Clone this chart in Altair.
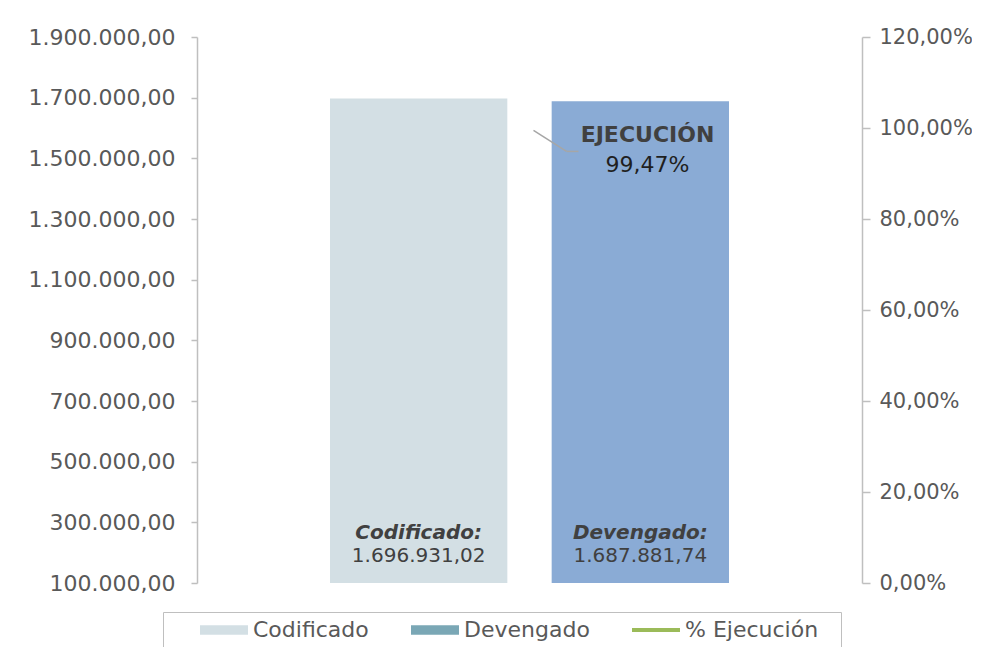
import altair as alt
import pandas as pd

# ---- data ----
categorias = ["Codificado", "Devengado"]
montos = [1696931.02, 1687881.74]
etiquetas_monto = ["1.696.931,02", "1.687.881,74"]
etiquetas_titulo = ["Codificado:", "Devengado:"]
colores_barra = ["#D3DFE4", "#8AABD5"]

serie_pct = ["% Ejecución"]
porcentaje = [0.9947]
porcentaje_txt = ["99,47%"]
titulo_pct = ["EJECUCIÓN"]

leyenda_series = ["Codificado", "Devengado", "% Ejecución"]
leyenda_colores = ["#D3DFE4", "#7AA7B5", "#9BBB59"]

ticks_izq = [100000, 300000, 500000, 700000, 900000, 1100000, 1300000, 1500000, 1700000, 1900000]
ticks_der = [0, 0.2, 0.4, 0.6, 0.8, 1.0, 1.2]

FONT = "DejaVu Sans"
GRIS = "#BFBFBF"

bars_df = pd.DataFrame({"cat": categorias, "monto": montos,
                        "etq": etiquetas_monto, "tit": etiquetas_titulo})
pct_df = pd.DataFrame({"serie": serie_pct, "pct": porcentaje,
                       "txt": porcentaje_txt, "tit": titulo_pct})
leg_df = pd.DataFrame({"serie": leyenda_series,
                       "cat": [categorias[0]] * len(leyenda_series),
                       "monto": [montos[0]] * len(leyenda_series)})

x_scale = alt.Scale(domain=categorias, paddingInner=0.2, paddingOuter=0.6)
y_scale = alt.Scale(domain=[ticks_izq[0], ticks_izq[-1]], nice=False, zero=False)

eje_izq = alt.Axis(orient="left", values=ticks_izq, grid=False, title=None,
                   labelExpr="replace(replace(format(datum.value, ',d'), ',', '.'), ',', '.') + ',00'",
                   domainColor=GRIS, tickColor=GRIS, domainWidth=1.5, tickWidth=1.5,
                   tickSize=6, labelPadding=16, labelFontSize=22, labelColor="#595959",
                   labelFont=FONT)
eje_der = alt.Axis(orient="right", values=ticks_der, grid=False, title=None,
                   labelExpr="replace(format(datum.value, '.2%'), '.', ',')",
                   domainColor=GRIS, tickColor=GRIS, domainWidth=1.5, tickWidth=1.5,
                   tickSize=8, labelPadding=9, labelFontSize=21, labelColor="#595959",
                   labelFont=FONT)

x_bar = alt.X("cat:N", scale=x_scale, axis=None)
y_bar = alt.Y("monto:Q", scale=y_scale, axis=eje_izq)
y_base = alt.YDatum(ticks_izq[0], scale=y_scale, axis=eje_izq)

base = alt.Chart(bars_df)

barras = base.mark_bar().encode(
    x=x_bar,
    y=y_bar,
    y2=alt.Y2Datum(ticks_izq[0]),
    fill=alt.Fill("cat:N", scale=alt.Scale(domain=categorias, range=colores_barra), legend=None),
)

tit_barras = base.mark_text(font=FONT, fontSize=20, fontWeight="bold", fontStyle="italic",
                            color="#404040", baseline="middle", dy=-50).encode(
    x=x_bar, y=y_base, text="tit:N")
val_barras = base.mark_text(font=FONT, fontSize=20, color="#404040",
                            baseline="middle", dy=-27).encode(
    x=x_bar, y=y_base, text="etq:N")

shape_paths = ["M-2,-0.4H2V0.4H-2Z", "M-2,-0.4H2V0.4H-2Z", "M-2,-0.17H2V0.17H-2Z"]
leyenda = alt.Chart(leg_df).mark_point(filled=True, size=0, opacity=1).encode(
    x=x_bar,
    y=y_bar,
    color=alt.Color("serie:N", scale=alt.Scale(domain=leyenda_series, range=leyenda_colores),
                    legend=alt.Legend(title=" ", titleOrient="right", titlePadding=17,
                                      orient="none", legendX=-34, legendY=575,
                                      direction="horizontal", symbolOpacity=1,
                                      symbolSize=576, symbolStrokeWidth=0,
                                      symbolOffset=43, labelOffset=17,
                                      labelFontSize=22, labelFont=FONT, labelColor="#595959",
                                      columnPadding=11, padding=6,
                                      strokeColor=GRIS)),
    shape=alt.Shape("serie:N", scale=alt.Scale(domain=leyenda_series, range=shape_paths)),
)

capa_barras = alt.layer(leyenda, barras, tit_barras, val_barras)

pbase = alt.Chart(pct_df)
x_pct = alt.X("serie:N", scale=alt.Scale(domain=serie_pct), axis=None)
y_pct = alt.Y("pct:Q", scale=alt.Scale(domain=[0, 1.2], nice=False), axis=eje_der)

linea = pbase.mark_line(color="#9BBB59", strokeWidth=3).encode(x=x_pct, y=y_pct)
guia1 = pbase.mark_rule(color="#A6A6A6", strokeWidth=1.5, xOffset=4, x2Offset=37, y2Offset=21).encode(
    x=x_pct, x2="serie:N", y=y_pct, y2="pct:Q")
guia2 = pbase.mark_rule(color="#A6A6A6", strokeWidth=1.5, xOffset=37, x2Offset=49,
                        yOffset=21, y2Offset=21).encode(
    x=x_pct, x2="serie:N", y=y_pct, y2="pct:Q")
tit_pct = pbase.mark_text(font=FONT, fontSize=22, fontWeight="bold", color="#404040",
                          baseline="middle", dx=118, dy=5).encode(x=x_pct, y=y_pct, text="tit:N")
val_pct = pbase.mark_text(font=FONT, fontSize=22, color="#1F1F1F",
                          baseline="middle", dx=118, dy=35).encode(x=x_pct, y=y_pct, text="txt:N")

capa_pct = alt.layer(linea, guia1, guia2, tit_pct, val_pct)

chart = alt.layer(capa_barras, capa_pct).resolve_scale(
    x="independent", y="independent"
).properties(
    width=665, height=546,
    autosize=alt.AutoSizeParams(type="none"),
    padding={"left": 189, "top": 29, "right": 110, "bottom": 64},
).configure(background="white").configure_view(stroke=None)

chart.save("out.html", embed_options={"renderer": "svg", "actions": False})
